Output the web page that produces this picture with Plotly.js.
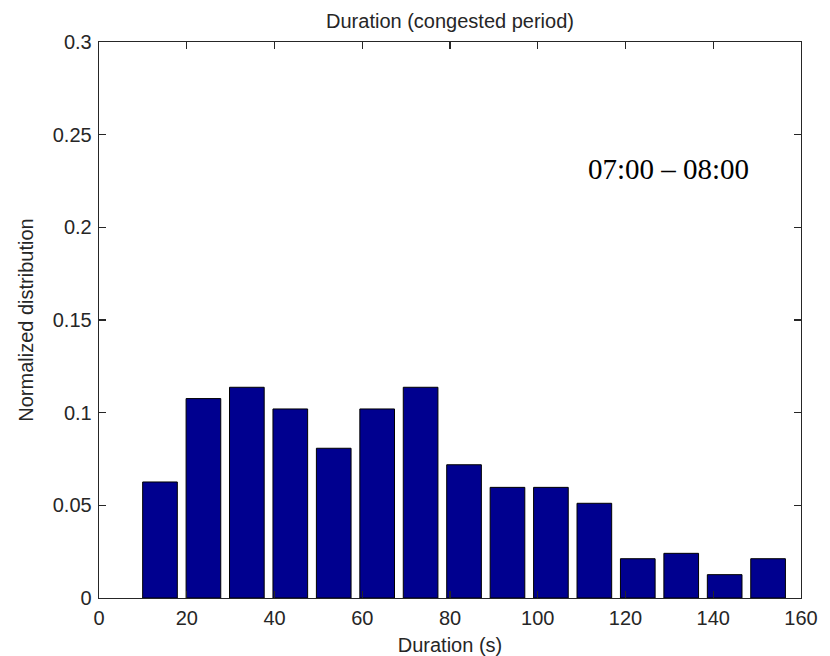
<!DOCTYPE html>
<html>
<head>
<meta charset="utf-8">
<script src="https://cdn.plot.ly/plotly-3.0.1.min.js"></script>
<style>
  html, body { margin: 0; padding: 0; background: #fff; }
  #chart { width: 830px; height: 656px; }
</style>
</head>
<body>
<div id="chart"></div>
<script>
// Bin centres (s)
const binCenters = [13.9, 23.8, 33.7, 43.6, 53.5, 63.4, 73.3, 83.2, 93.1, 103.0, 112.9, 122.8, 132.7, 142.6, 152.5];
// Normalized distribution values
const distribution = [0.0626, 0.1076, 0.1137, 0.1020, 0.0808, 0.1020, 0.1137, 0.0719, 0.0597, 0.0597, 0.0511, 0.0212, 0.0241, 0.0126, 0.0212];
const xTicks = [0, 20, 40, 60, 80, 100, 120, 140, 160];
const yTicks = [0, 0.05, 0.1, 0.15, 0.2, 0.25, 0.3];
const yTickLabels = ['0', '0.05', '0.1', '0.15', '0.2', '0.25', '0.3'];
const chartTitle = 'Duration (congested period)';
const xTitle = 'Duration (s)';
const yTitle = 'Normalized distribution';
const periodLabel = '07:00 \u2013 08:00';

const sans = 'Arial, "Liberation Sans", sans-serif';
const txt = '#262626';

const trace = {
  type: 'bar',
  x: binCenters,
  y: distribution,
  width: 7.9,
  marker: { color: '#00008f', line: { color: '#000000', width: 1 } },
  hoverinfo: 'x+y'
};

const axisCommon = {
  showgrid: false,
  zeroline: false,
  showline: true,
  linecolor: '#262626',
  linewidth: 1.3,
  mirror: 'ticks',
  ticks: 'inside',
  ticklen: 7,
  tickwidth: 1.3,
  tickcolor: '#262626',
  tickfont: { family: sans, size: 20, color: txt }
};

const layout = {
  width: 830,
  height: 656,
  margin: { l: 98.5, r: 29, t: 42, b: 58, pad: 0 },
  paper_bgcolor: '#ffffff',
  plot_bgcolor: '#ffffff',
  showlegend: false,
  title: {
    text: chartTitle,
    font: { family: sans, size: 20, color: txt },
    x: 0.5, xref: 'paper', xanchor: 'center',
    y: 1 - 21 / 656, yref: 'container', yanchor: 'middle'
  },
  xaxis: Object.assign({}, axisCommon, {
    range: [0, 160],
    tickmode: 'array',
    tickvals: xTicks,
    ticktext: xTicks.map(String),
    ticklabelstandoff: 2,
    title: { text: xTitle, font: { family: sans, size: 20, color: txt }, standoff: 10 }
  }),
  yaxis: Object.assign({}, axisCommon, {
    range: [0, 0.3],
    tickmode: 'array',
    tickvals: yTicks,
    ticktext: yTickLabels,
    ticklabelstandoff: 2,
    title: { text: yTitle, font: { family: sans, size: 20, color: txt }, standoff: 13 }
  }),
  annotations: [{
    text: periodLabel,
    xref: 'paper', yref: 'paper',
    x: (668 - 98.5) / 702.5, y: (598 - 169) / 556,
    xanchor: 'center', yanchor: 'middle',
    showarrow: false,
    font: { family: '"Liberation Serif", "Times New Roman", serif', size: 29, color: '#000000' }
  }]
};

Plotly.newPlot('chart', [trace], layout, { displayModeBar: false, staticPlot: true });
</script>
</body>
</html>
